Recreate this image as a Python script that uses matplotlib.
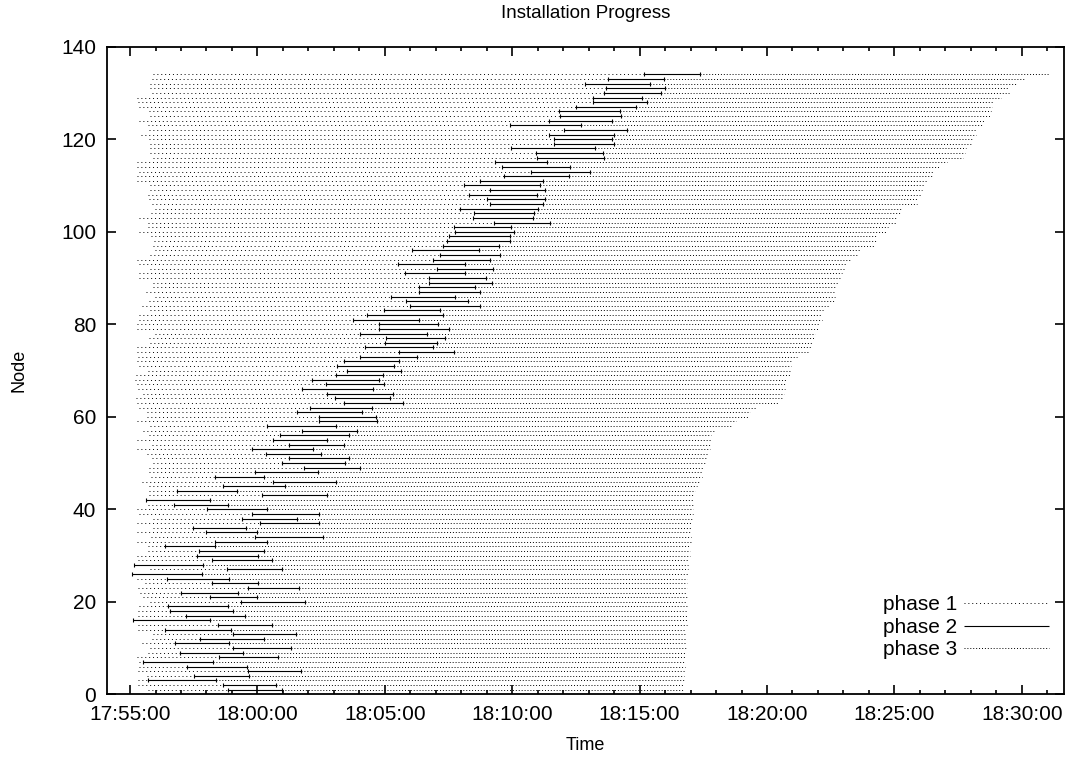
import datetime as dt
import matplotlib
matplotlib.use("Agg")
import matplotlib.pyplot as plt
import matplotlib.dates as mdates

plt.rcParams['font.family'] = ['Liberation Sans', 'DejaVu Sans']

# all times in minutes after 17:55:00
base = dt.datetime(2000, 1, 1, 17, 55, 0)
nodes = list(range(1, 135))

start = [0.72, 0.33, 0.31, 0.65, 0.33, 0.37, 0.37, 0.29, 0.72, 0.79,
         0.46, 0.85, 0.92, 0.33, 0.33, 0.10, 0.33, 0.33, 0.37, 0.79,
         0.52, 0.39, 0.33, 0.59, 0.26, 0.07, 0.79, 0.17, 0.33, 0.26,
         0.72, 0.72, 0.26, 0.81, 0.26, 0.92, 0.26, 0.92, 0.37, 0.26,
         0.72, 0.62, 0.76, 0.76, 0.76, 0.46, 0.81, 0.76, 0.76, 0.92,
         0.85, 0.65, 0.26, 0.85, 0.26, 0.76, 0.52, 0.79, 0.26, 0.68,
         0.68, 0.37, 0.29, 0.24, 0.52, 0.33, 0.26, 0.20, 0.24, 0.72,
         0.37, 0.29, 0.33, 0.29, 0.29, 0.79, 0.76, 0.98, 0.29, 0.26,
         0.37, 0.37, 0.79, 0.46, 0.76, 0.98, 0.63, 0.92, 0.92, 0.37,
         0.37, 0.79, 0.37, 0.29, 0.79, 0.98, 0.92, 0.94, 0.81, 0.37,
         0.72, 0.72, 0.37, 0.81, 0.98, 0.85, 0.76, 0.72, 0.79, 0.79,
         0.26, 0.29, 0.37, 0.29, 0.29, 0.92, 0.79, 0.79, 0.79, 0.76,
         0.42, 0.76, 0.72, 0.37, 0.79, 0.76, 0.37, 0.33, 0.29, 0.85,
         0.79, 0.79, 0.85, 0.92]

p2_start = [3.86, 3.66, 0.72, 2.53, 4.65, 2.25, 0.52, 3.51, 1.96, 4.03,
            1.77, 2.75, 4.06, 1.39, 3.47, 0.10, 2.20, 1.57, 1.51, 4.35,
            3.12, 2.00, 4.65, 3.21, 1.44, 0.07, 3.80, 0.17, 3.21, 2.62,
            2.72, 1.37, 3.34, 4.91, 2.98, 2.46, 5.10, 4.38, 4.78, 3.01,
            1.73, 0.62, 5.17, 1.86, 3.64, 5.63, 3.34, 4.91, 6.81, 5.96,
            6.22, 5.34, 4.78, 6.22, 5.63, 5.89, 6.74, 5.37, 7.43, 7.40,
            6.57, 7.07, 8.38, 8.05, 7.72, 6.74, 7.70, 7.14, 8.09, 8.51,
            8.12, 8.41, 9.01, 10.54, 9.23, 10.02, 10.06, 9.01, 9.79, 9.79,
            8.75, 9.30, 9.95, 10.97, 10.84, 10.24, 11.36, 11.36, 11.72, 11.72,
            10.80, 12.04, 10.50, 11.89, 12.18, 11.06, 12.28, 12.44, 12.50, 12.77,
            12.70, 14.27, 13.48, 13.51, 12.96, 14.11, 14.01, 13.29, 14.11, 13.12,
            13.72, 14.66, 15.74, 14.60, 14.34, 15.97, 15.95, 14.95, 16.65, 16.65,
            16.43, 17.05, 14.93, 16.43, 16.89, 16.83, 17.52, 18.17, 18.17, 18.59,
            18.70, 17.87, 18.75, 20.16]

p2_end = [5.96, 5.73, 3.38, 4.67, 6.71, 4.58, 3.27, 5.82, 4.45, 6.31,
          3.90, 5.24, 6.52, 3.97, 5.56, 3.14, 4.52, 4.06, 3.86, 6.87,
          5.00, 4.25, 6.65, 5.04, 3.90, 2.81, 5.96, 2.88, 5.56, 5.04,
          5.24, 3.34, 5.37, 7.59, 4.97, 4.55, 7.43, 6.54, 7.43, 5.37,
          3.86, 3.12, 7.72, 4.19, 6.09, 8.09, 5.26, 7.36, 9.01, 8.44,
          8.61, 7.49, 7.20, 8.40, 7.72, 8.61, 8.90, 8.09, 9.69, 9.66,
          9.10, 9.49, 10.71, 10.21, 10.34, 9.53, 9.98, 9.79, 9.92, 10.63,
          10.37, 10.54, 11.26, 12.73, 11.91, 12.05, 12.37, 11.65, 12.50, 12.07,
          11.33, 12.30, 12.18, 13.75, 13.25, 12.77, 13.72, 13.55, 14.21, 13.98,
          13.16, 14.24, 13.16, 14.14, 14.53, 13.68, 14.47, 14.92, 14.90, 15.06,
          14.95, 16.50, 15.82, 15.84, 16.00, 16.21, 16.30, 15.97, 16.30, 16.08,
          16.21, 17.22, 18.07, 17.26, 16.36, 18.59, 18.56, 18.26, 18.98, 18.92,
          18.98, 19.51, 17.70, 18.92, 19.27, 19.22, 19.87, 20.29, 20.09, 20.84,
          21.01, 20.42, 20.95, 22.36]

finish = [21.70, 21.73, 21.73, 21.73, 21.77, 21.77, 21.77, 21.77, 21.81, 21.81,
          21.81, 21.84, 21.84, 21.84, 21.86, 21.86, 21.86, 21.86, 21.86, 21.86,
          21.86, 21.86, 21.86, 21.86, 21.86, 21.90, 21.90, 21.90, 21.93, 21.97,
          21.97, 21.97, 22.00, 22.00, 22.02, 22.06, 22.06, 22.06, 22.09, 22.09,
          22.10, 22.13, 22.15, 22.19, 22.26, 22.32, 22.45, 22.49, 22.52, 22.58,
          22.62, 22.65, 22.75, 22.78, 22.81, 22.81, 22.91, 23.59, 23.80, 24.29,
          24.33, 24.55, 25.43, 25.63, 25.66, 25.69, 25.74, 25.77, 25.90, 25.90,
          25.95, 25.99, 26.19, 26.60, 26.77, 26.77, 26.84, 26.87, 27.00, 27.04,
          27.14, 27.17, 27.21, 27.47, 27.63, 27.65, 27.65, 27.69, 27.78, 27.86,
          27.95, 28.02, 28.15, 28.28, 28.54, 28.65, 29.20, 29.26, 29.30, 29.72,
          29.75, 30.05, 30.09, 30.24, 30.31, 30.87, 30.92, 31.09, 31.09, 31.16,
          31.29, 31.49, 31.55, 31.79, 32.08, 32.70, 32.76, 32.80, 32.99, 33.10,
          33.19, 33.19, 33.49, 33.54, 33.80, 33.80, 33.84, 33.91, 34.20, 34.50,
          34.50, 34.80, 35.11, 36.07]


def to_num(mins):
    return mdates.date2num([base + dt.timedelta(minutes=m) for m in mins])


s = to_num(start)
a = to_num(p2_start)
b = to_num(p2_end)
e = to_num(finish)

fig = plt.figure(figsize=(10.66, 7.61), dpi=100)
ax = fig.add_axes([0.1007, 0.0876, 0.8975, 0.8510])

ax.hlines(nodes, s, a, colors='black', linewidth=0.7,
          linestyles=(0, (1, 3)), label='phase 1')
ax.hlines(nodes, a, b, colors='black', linewidth=0.8, label='phase 2')
ax.plot(a, nodes, '|', color='black', ms=3, mew=0.8)
ax.plot(b, nodes, '|', color='black', ms=3, mew=0.8)
ax.hlines(nodes, b, e, colors='black', linewidth=0.7,
          linestyles=(0, (1, 2)), label='phase 3')

ax.set_xlim(to_num([-0.89])[0], to_num([36.66])[0])
ax.set_ylim(0, 140)
ax.xaxis.set_major_locator(mdates.MinuteLocator(byminute=range(0, 60, 5)))
ax.xaxis.set_minor_locator(mdates.MinuteLocator())
ax.xaxis.set_major_formatter(mdates.DateFormatter('%H:%M:%S'))
ax.set_yticks(range(0, 141, 20))

ax.tick_params(which='both', direction='in', top=True, right=True,
               labelsize=15, width=1.2)
ax.tick_params(which='major', length=6.5, pad=8)
ax.tick_params(which='minor', length=3.2)
for sp in ax.spines.values():
    sp.set_linewidth(1.3)

ax.set_title('Installation Progress', fontsize=13.5, pad=21)
ax.set_xlabel('Time', fontsize=13, labelpad=9)
ax.set_ylabel('Node', fontsize=13, labelpad=24)

ax.legend(loc='lower right', bbox_to_anchor=(0.993, 0.041), frameon=False,
          markerfirst=False, handlelength=4.1, handletextpad=0.3,
          labelspacing=0.17, fontsize=15, borderaxespad=0)

fig.savefig('out.png', dpi=100)
